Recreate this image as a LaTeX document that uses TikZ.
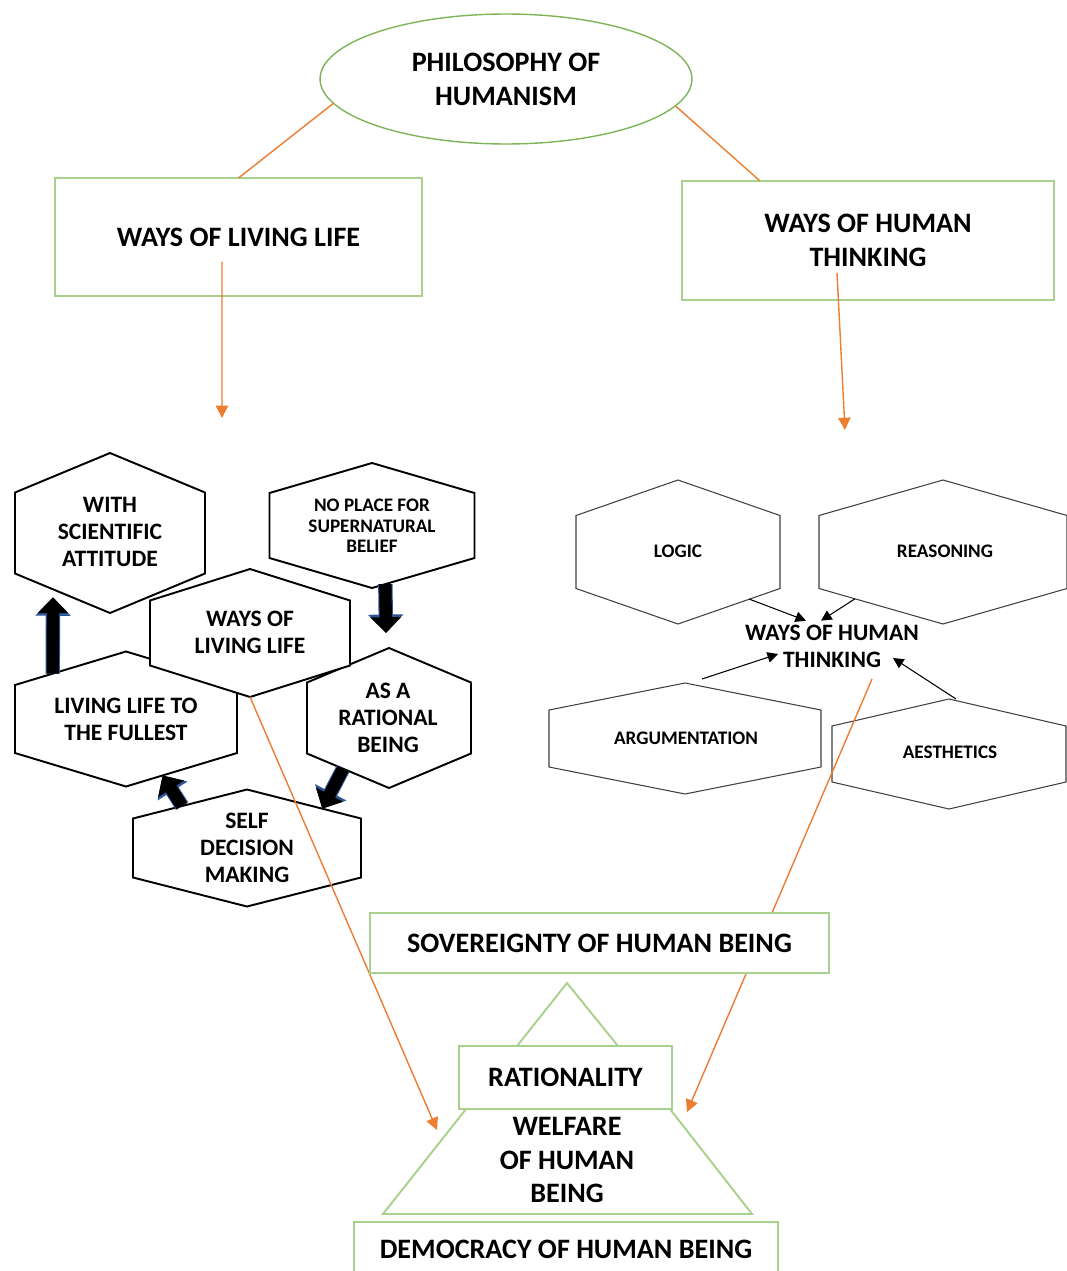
\documentclass[tikz,border=0pt]{standalone}
\usepackage{fontspec}
\setmainfont{Carlito}
\usepackage{xcolor}
\usetikzlibrary{arrows.meta}
\usetikzlibrary{shapes.geometric}
\usetikzlibrary{calc}
\definecolor{boxgreen}{RGB}{169,209,142}
\definecolor{ellgreen}{RGB}{125,180,90}
\definecolor{linkorange}{RGB}{237,125,49}
\definecolor{arrownavy}{RGB}{47,85,151}
% hexagon with pointed top: style, name, centre x, centre y, half width, half side, half height
\newcommand{\hexpath}[7][hexleft]{%
  \coordinate (#2-n) at ({#3},{#4-#7});
  \coordinate (#2-ne) at ({#3+#5},{#4-#6});
  \coordinate (#2-se) at ({#3+#5},{#4+#6});
  \coordinate (#2-s) at ({#3},{#4+#7});
  \coordinate (#2-sw) at ({#3-#5},{#4+#6});
  \coordinate (#2-nw) at ({#3-#5},{#4-#6});
  \filldraw[#1] (#2-nw) -- (#2-n) -- (#2-ne) -- (#2-se) -- (#2-s) -- (#2-sw) -- cycle;
}

\begin{document}
\begin{tikzpicture}[x=0.02cm, y=-0.02cm,
    bigtext/.style={align=center, font=\bfseries\fontsize{16}{19.3}\selectfont},
    greenbox/.style={bigtext, draw=boxgreen, line width=1.1pt, fill=white, inner sep=2pt, outer sep=0pt},
    greenline/.style={draw=boxgreen, line width=1.1pt},
    hexleft/.style={draw=black, line width=1.1pt, fill=white},
    hexright/.style={draw=black!75, line width=0.6pt, fill=white},
    hextext/.style={align=center, font=\bfseries\fontsize{13.4}{15.3}\selectfont, inner sep=1pt},
    smalltext/.style={align=center, font=\bfseries\fontsize{10.9}{11.6}\selectfont, inner sep=1pt},
    link/.style={draw=linkorange, line width=0.8pt},
    linkarrow/.style={link, -{Triangle[width=7pt,length=7pt]}},
    thinarrow/.style={draw=black, line width=0.6pt, -{Triangle[width=6pt,length=6pt]}},
    fatarrow/.style={draw=black, line width=7pt, -{Triangle[width=17pt,length=9pt]},
      preaction={draw=arrownavy, line width=8.2pt, -{Triangle[width=19.5pt,length=10.5pt]}}}]
  \useasboundingbox (0,0) rectangle (1066,1271);

  % top of the map
  \node[draw=ellgreen, line width=0.8pt, ellipse, minimum width=7.44cm, minimum height=2.6cm,
    inner sep=0pt, outer sep=0pt, bigtext] (philo) at (506,79) {PHILOSOPHY OF\\HUMANISM};
  \node[greenbox, minimum width=7.34cm, minimum height=2.36cm] (livebox) at (238.5,237) {WAYS OF LIVING LIFE};
  \node[greenbox, minimum width=7.44cm, minimum height=2.38cm] (thinkbox) at (868,240.5) {WAYS OF HUMAN\\THINKING};
  \draw[link] (philo.188) -- (livebox.north);
  \draw[link] (philo.351) -- ([xshift=-2.16cm]thinkbox.north);
  \coordinate (liveend) at (222,418);
  \coordinate (thinkend) at (845,430);
  \draw[linkarrow] ([xshift=-0.33cm,yshift=-0.5cm]livebox.center) -- (liveend);
  \draw[linkarrow] ([xshift=-0.62cm,yshift=-0.65cm]thinkbox.center) -- (thinkend);

  % ways of living life
  \hexpath{hsci}{110}{533}{95}{40.5}{80}
  \node[hextext] (sci) at (110,532) {WITH\\SCIENTIFIC\\ATTITUDE};
  \hexpath{hnop}{372}{525.5}{102.5}{32.5}{62.5}
  \node[smalltext] (noplace) at (372,526) {NO PLACE FOR\\SUPERNATURAL\\BELIEF};
  \hexpath{hfull}{126}{719}{111}{34}{67.5}
  \node[hextext] (fullest) at (126,719) {LIVING LIFE TO\\THE FULLEST};
  \hexpath{hrat}{389}{718}{82}{35.5}{70}
  \node[hextext] (rational) at (388,718) {AS A\\RATIONAL\\BEING};
  \hexpath{hself}{247}{848}{114}{29.5}{58.5}
  \node[hextext] (self) at (247,848) {SELF\\DECISION\\MAKING};
  \hexpath{hways}{250}{633}{100}{32.5}{64}
  \node[hextext] (ways) at (250,632) {WAYS OF\\LIVING LIFE};
  % thick arrows
  \draw[fatarrow] ($(hfull-nw)!0.34!(hfull-n)$) -- ($(hsci-sw)!0.4!(hsci-s)+(0,8)$);
  \draw[fatarrow] ($(hnop-s)!0.13!(hnop-se)$) -- ($(hrat-n)+(-3,-15)$);
  \draw[fatarrow] ($(hrat-sw)!0.44!(hrat-s)$) -- ($(hself-n)!0.66!(hself-ne)$);
  \draw[fatarrow] ($(hself-nw)!0.43!(hself-n)$) -- ($(hfull-s)!0.33!(hfull-se)$);

  % ways of human thinking
  \hexpath[hexright]{hlogic}{678}{552}{102}{36.5}{72}
  \node[smalltext] (logic) at (678,551) {LOGIC};
  \hexpath[hexright]{hreason}{943}{552}{124}{36.5}{72}
  \node[smalltext] (reason) at (945,551) {REASONING};
  \hexpath[hexright]{harg}{685}{738.5}{136}{28.5}{55.5}
  \node[smalltext] (argue) at (686,738) {ARGUMENTATION};
  \hexpath[hexright]{haesth}{949}{754}{117}{28}{55}
  \node[smalltext] (aesth) at (950,752) {AESTHETICS};
  \node[hextext] (thinking) at (832,646) {WAYS OF HUMAN\\THINKING};
  \draw[thinarrow] ($(hlogic-s)!0.7!(hlogic-se)$) -- ([xshift=-0.52cm,yshift=0.04cm]thinking.north);
  \draw[thinarrow] ($(hreason-s)!0.71!(hreason-sw)$) -- ([xshift=-0.22cm,yshift=0.04cm]thinking.north);
  \draw[thinarrow] ([xshift=0.34cm,yshift=0.08cm]harg-n) -- ([xshift=-1.08cm,yshift=-0.16cm]thinking.center);
  \draw[thinarrow] ([xshift=0.14cm]haesth-n) -- ([xshift=1.22cm,yshift=-0.24cm]thinking.center);

  % pyramid
  \node[greenbox, minimum width=4.26cm, minimum height=1.26cm] (ration) at (565.5,1077.5) {RATIONALITY};
  \coordinate (apex) at (567,983);
  \coordinate (trapl) at (383,1214);
  \coordinate (trapr) at (752,1214);
  \draw[greenline] ([xshift=-0.97cm]ration.north) -- (apex) -- ([xshift=1.05cm]ration.north);
  \draw[greenline] ([xshift=0.14cm]ration.south west) -- (trapl) -- (trapr) -- ([xshift=-0.04cm]ration.south east);
  \node[bigtext] (welfare) at (567,1160) {WELFARE\\OF HUMAN\\BEING};
  \node[greenbox, minimum width=8.48cm, minimum height=1.08cm] (democ) at (566,1249) {DEMOCRACY OF HUMAN BEING};

  % orange arrows down to the pyramid
  \draw[linkarrow] (hways-s) -- ([xshift=-0.44cm,yshift=-0.42cm]ration.south west);
  \draw[linkarrow] ([xshift=0.8cm,yshift=-0.66cm]thinking.center) -- ([xshift=0.3cm,yshift=-0.06cm]ration.south east);
  \node[greenbox, minimum width=9.18cm, minimum height=1.2cm] (sovereign) at (599.5,943) {SOVEREIGNTY OF HUMAN BEING};
\end{tikzpicture}
\end{document}
